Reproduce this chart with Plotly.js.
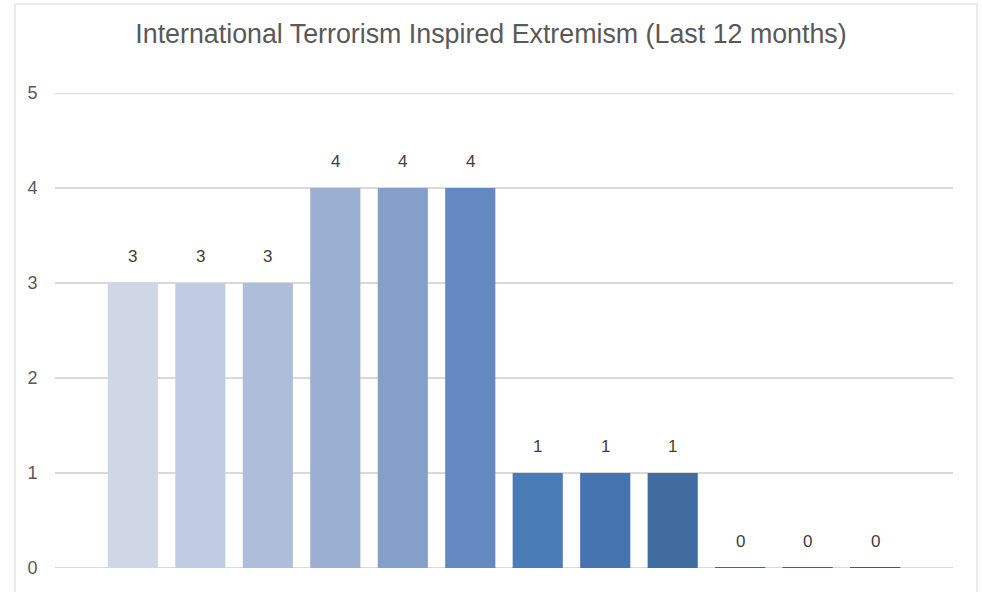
<!DOCTYPE html>
<html>
<head>
<meta charset="utf-8">
<script src="https://cdn.plot.ly/plotly-3.0.1.min.js"></script>
<style>html,body{margin:0;padding:0;background:#fff;}#chart{width:982px;height:592px;}</style>
</head>
<body>
<div id="chart"></div>
<script>
const categories = ["M1","M2","M3","M4","M5","M6","M7","M8","M9","M10","M11","M12"];
const values = [3, 3, 3, 4, 4, 4, 1, 1, 1, 0, 0, 0];
const barColors = ["#cfd7e6","#c0cce2","#aebdd9","#9aafd1","#84a0c9","#6389c0","#4a7cb8","#4674ae","#416ca0","#3d6496","#3b5f8e","#395a87"];
const yTicks = [0, 1, 2, 3, 4, 5];
const titleText = "International Terrorism Inspired Extremism (Last 12 months)";

const trace = {
  type: "bar",
  x: categories,
  y: values,
  width: 0.743,
  marker: {color: barColors, line: {color: barColors, width: values.map(v => v === 0 ? 2 : 0)}},
  hoverinfo: "none"
};

const annotations = categories.map((c, i) => ({
  x: c, y: values[i], xref: "x", yref: "y",
  text: String(values[i]), showarrow: false, yshift: 27,
  font: {family: "Liberation Sans, Arial, sans-serif", size: 17, color: "#404040"}
}));

const edgeGrid = [yTicks[0], yTicks[yTicks.length - 1]].map(v => ({
  type: "line", xref: "paper", yref: "y", x0: 0, x1: 1, y0: v, y1: v,
  line: {color: "#d9d9d9", width: 2}, layer: "below"
}));

const layout = {
  width: 982, height: 592,
  margin: {l: 55, r: 29, t: 93, b: 24},
  paper_bgcolor: "#ffffff", plot_bgcolor: "#ffffff",
  title: {text: titleText, x: 0.5, xanchor: "center", y: 0.943, yanchor: "middle",
    font: {family: "Liberation Sans, Arial, sans-serif", size: 26.8, color: "#595959"}},
  showlegend: false,
  bargap: 0.257,
  xaxis: {type: "category", range: [-1.154, 12.154], showticklabels: false, showgrid: false,
    zeroline: false, showline: false, ticks: ""},
  yaxis: {range: [0, 5], tickvals: yTicks, ticktext: yTicks.map(String),
    showgrid: true, gridcolor: "#d9d9d9", gridwidth: 2, zeroline: false, showline: false,
    ticks: "outside", ticklen: 13, tickcolor: "rgba(0,0,0,0)",
    tickfont: {family: "Liberation Sans, Arial, sans-serif", size: 18, color: "#595959"}},
  annotations: annotations,
  shapes: [{type: "rect", xref: "paper", yref: "paper", x0: -0.0445, x1: 1.0267, y0: -0.2, y1: 1.1874,
    line: {color: "#ebebeb", width: 2}, fillcolor: "rgba(0,0,0,0)", layer: "below"}].concat(edgeGrid)
};

Plotly.newPlot("chart", [trace], layout, {displayModeBar: false, staticPlot: true});
</script>
</body>
</html>
